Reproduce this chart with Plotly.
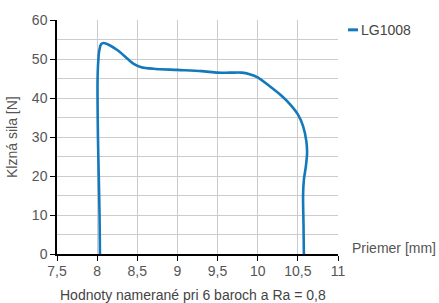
import plotly.graph_objects as go

series_name = "LG1008"
diameter = [8.035, 8.03, 8.02, 8.01, 8.005, 8.005, 8.01, 8.025, 8.05, 8.08, 8.15, 8.25, 8.35, 8.45, 8.55, 8.7, 9.0, 9.3, 9.5, 9.65, 9.8, 9.9, 10.0, 10.15, 10.3, 10.42, 10.5, 10.565, 10.605, 10.615, 10.6, 10.575, 10.565, 10.57, 10.575]
force = [0, 10, 20, 30, 40, 44, 48, 52, 53.8, 54.1, 53.6, 52.3, 50.6, 48.8, 47.9, 47.5, 47.2, 46.9, 46.5, 46.5, 46.5, 46.1, 45.3, 43.0, 40.5, 38.0, 35.8, 32.8, 29.0, 26.0, 22.5, 19.0, 15.0, 8.0, 0]
x_ticks = [7.5, 8, 8.5, 9, 9.5, 10, 10.5, 11]
x_labels = ["7,5", "8", "8,5", "9", "9,5", "10", "10,5", "11"]
y_ticks = [0, 10, 20, 30, 40, 50, 60]

line_color = "#1479bb"
L, R, T, B = 57, 338, 16, 254
W, H = 439, 303
pw, ph = R - L, B - T

def px(xpix):
    return (xpix - L) / pw

def py(ypix):
    return (B - ypix) / ph

fig = go.Figure()
fig.add_trace(go.Scatter(
    x=diameter, y=force, mode="lines", name=series_name, showlegend=False,
    line=dict(color=line_color, width=2.6, shape="spline", smoothing=0.8),
))

font = "Liberation Sans, Arial, sans-serif"
fig.update_layout(
    width=W, height=H,
    margin=dict(l=L, r=W - R, t=T, b=H - B),
    paper_bgcolor="white", plot_bgcolor="white",
    font=dict(family=font, size=14, color="#555555"),
    showlegend=False,
    xaxis=dict(range=[7.5, 11], tickvals=x_ticks, ticktext=x_labels,
               showgrid=True, gridcolor="#cccccc", gridwidth=1,
               showline=True, linecolor="black", linewidth=1.5,
               ticks="outside", ticklen=5, tickcolor="black", tickwidth=1,
               zeroline=False, mirror=False, ticklabelstandoff=-2,
               tickfont=dict(size=14, color="#555555")),
    yaxis=dict(range=[0, 60], tickvals=y_ticks,
               showgrid=True, gridcolor="#cccccc", gridwidth=1,
               minor=dict(dtick=5, showgrid=True, gridcolor="#cccccc", gridwidth=1, ticks=""),
               showline=True, linecolor="black", linewidth=1.5,
               ticks="outside", ticklen=5, tickcolor="black", tickwidth=1,
               zeroline=False,
               tickfont=dict(size=14, color="#555555")),
    shapes=[
        dict(type="line", xref="paper", yref="paper", x0=px(348), x1=px(358), y0=py(26), y1=py(26),
             line=dict(color=line_color, width=3)),
    ],
    annotations=[
        dict(text=series_name, x=px(359), y=py(26), xref="paper", yref="paper",
             xanchor="left", yanchor="middle", showarrow=False,
             font=dict(size=14, color="#444444")),
        dict(text="Klzná sila [N]", x=px(12), y=py(135), xref="paper", yref="paper",
             xanchor="center", yanchor="middle", textangle=-90, showarrow=False,
             font=dict(size=14, color="#555555")),
        dict(text="Priemer [mm]", x=px(394), y=py(248), xref="paper", yref="paper",
             xanchor="center", yanchor="middle", showarrow=False,
             font=dict(size=14, color="#555555")),
        dict(text="Hodnoty namerané pri 6 baroch a Ra = 0,8", x=px(193), y=py(295.5),
             xref="paper", yref="paper", xanchor="center", yanchor="middle",
             showarrow=False, font=dict(size=14, color="#444444")),
    ],
)
fig.write_html("out.html", config={"displayModeBar": False},
               post_script="document.body.style.margin='0';document.body.style.padding='0';")
